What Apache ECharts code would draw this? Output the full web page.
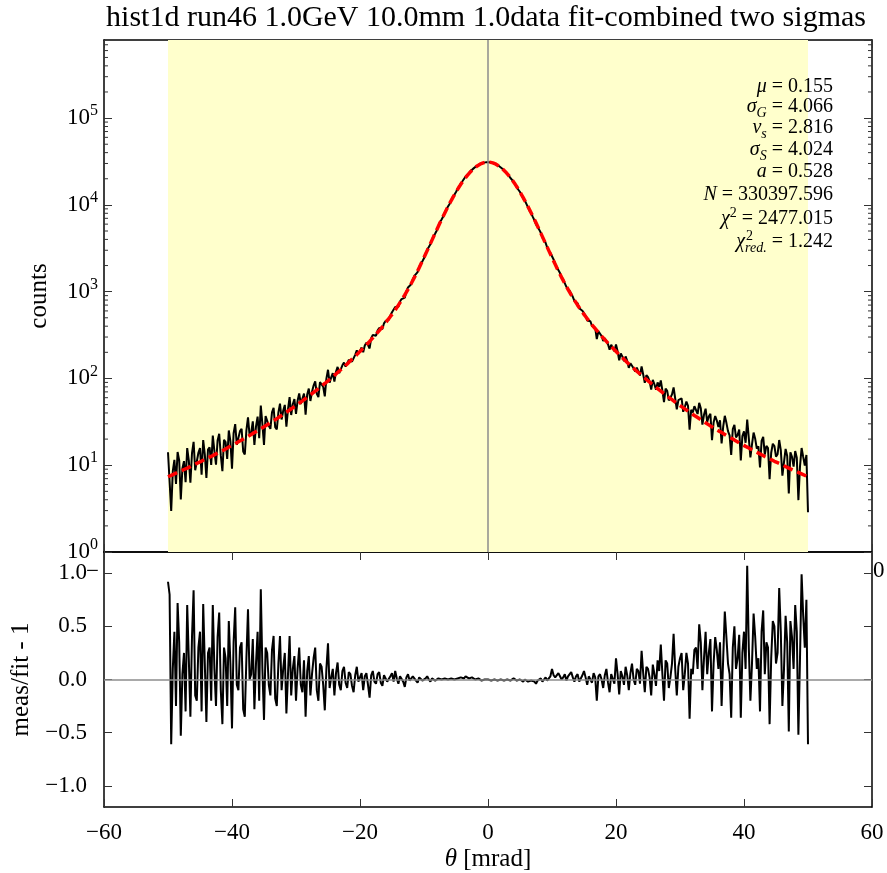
<!DOCTYPE html>
<html><head><meta charset="utf-8">
<script src="https://cdn.jsdelivr.net/npm/echarts@6/dist/echarts.min.js"></script>
<style>html,body{margin:0;padding:0;background:#fff}#c{width:887px;height:873px}</style>
</head><body><div id="c"></div>
<script>
// bin centres (mrad)
const theta = [-50,-49.75,-49.5,-49.25,-49,-48.75,-48.5,-48.25,-48,-47.75,-47.5,-47.25,-47,-46.75,-46.5,-46.25,-46,-45.75,-45.5,-45.25,
-45,-44.75,-44.5,-44.25,-44,-43.75,-43.5,-43.25,-43,-42.75,-42.5,-42.25,-42,-41.75,-41.5,-41.25,-41,-40.75,-40.5,-40.25,
-40,-39.75,-39.5,-39.25,-39,-38.75,-38.5,-38.25,-38,-37.75,-37.5,-37.25,-37,-36.75,-36.5,-36.25,-36,-35.75,-35.5,-35.25,
-35,-34.75,-34.5,-34.25,-34,-33.75,-33.5,-33.25,-33,-32.75,-32.5,-32.25,-32,-31.75,-31.5,-31.25,-31,-30.75,-30.5,-30.25,
-30,-29.75,-29.5,-29.25,-29,-28.75,-28.5,-28.25,-28,-27.75,-27.5,-27.25,-27,-26.75,-26.5,-26.25,-26,-25.75,-25.5,-25.25,
-25,-24.75,-24.5,-24.25,-24,-23.75,-23.5,-23.25,-23,-22.75,-22.5,-22.25,-22,-21.75,-21.5,-21.25,-21,-20.75,-20.5,-20.25,
-20,-19.75,-19.5,-19.25,-19,-18.75,-18.5,-18.25,-18,-17.75,-17.5,-17.25,-17,-16.75,-16.5,-16.25,-16,-15.75,-15.5,-15.25,
-15,-14.75,-14.5,-14.25,-14,-13.75,-13.5,-13.25,-13,-12.75,-12.5,-12.25,-12,-11.75,-11.5,-11.25,-11,-10.75,-10.5,-10.25,
-10,-9.75,-9.5,-9.25,-9,-8.75,-8.5,-8.25,-8,-7.75,-7.5,-7.25,-7,-6.75,-6.5,-6.25,-6,-5.75,-5.5,-5.25,
-5,-4.75,-4.5,-4.25,-4,-3.75,-3.5,-3.25,-3,-2.75,-2.5,-2.25,-2,-1.75,-1.5,-1.25,-1,-0.75,-0.5,-0.25,
0,
0.25,0.5,0.75,1,1.25,1.5,1.75,2,2.25,2.5,2.75,3,3.25,3.5,3.75,4,4.25,4.5,4.75,5,
5.25,5.5,5.75,6,6.25,6.5,6.75,7,7.25,7.5,7.75,8,8.25,8.5,8.75,9,9.25,9.5,9.75,10,
10.25,10.5,10.75,11,11.25,11.5,11.75,12,12.25,12.5,12.75,13,13.25,13.5,13.75,14,14.25,14.5,14.75,15,
15.25,15.5,15.75,16,16.25,16.5,16.75,17,17.25,17.5,17.75,18,18.25,18.5,18.75,19,19.25,19.5,19.75,20,
20.25,20.5,20.75,21,21.25,21.5,21.75,22,22.25,22.5,22.75,23,23.25,23.5,23.75,24,24.25,24.5,24.75,25,
25.25,25.5,25.75,26,26.25,26.5,26.75,27,27.25,27.5,27.75,28,28.25,28.5,28.75,29,29.25,29.5,29.75,30,
30.25,30.5,30.75,31,31.25,31.5,31.75,32,32.25,32.5,32.75,33,33.25,33.5,33.75,34,34.25,34.5,34.75,35,
35.25,35.5,35.75,36,36.25,36.5,36.75,37,37.25,37.5,37.75,38,38.25,38.5,38.75,39,39.25,39.5,39.75,40,
40.25,40.5,40.75,41,41.25,41.5,41.75,42,42.25,42.5,42.75,43,43.25,43.5,43.75,44,44.25,44.5,44.75,45,
45.25,45.5,45.75,46,46.25,46.5,46.75,47,47.25,47.5,47.75,48,48.25,48.5,48.75,49,49.25,49.5,49.75,50];
// fitted counts (red dashed curve)
const fitCounts = [7.36,7.50,7.64,7.79,7.94,8.09,8.25,8.41,8.57,8.74,8.92,9.09,9.27,9.46,9.65,9.87,10.1,10.3,10.5,10.7,
10.9,11.1,11.4,11.6,11.9,12.1,12.4,12.6,12.9,13.2,13.5,13.8,14.1,14.4,14.7,15.1,15.4,15.8,16.2,16.5,
16.9,17.3,17.7,18.1,18.6,19.0,19.5,20.0,20.5,21.0,21.5,22.0,22.6,23.2,23.8,24.4,25.0,25.6,26.3,27.0,
27.7,28.4,29.2,30.0,30.9,31.7,32.6,33.5,34.4,35.4,36.4,37.4,38.5,39.6,40.8,42.0,43.3,44.6,45.9,47.3,
48.7,50.2,51.8,53.4,55.1,56.9,58.7,60.6,62.6,64.7,66.8,69.0,71.3,73.7,76.2,78.9,81.6,84.5,87.5,90.6,
93.9,97.3,100.9,104.6,108.5,112.7,117,121,126,131,136,141,147,153,160,166,173,180,188,196,
205,214,223,233,244,255,267,280,293,308,323,339,356,375,394,415,438,463,489,517,
547,580,616,656,699,747,798,855,917,988,1064,1149,1241,1347,1461,1590,1731,1890,2064,2259,
2473,2711,2972,3261,3579,3927,4309,4725,5181,5673,6212,6786,7413,8076,8798,9552,10370,11220,12131,13070,
14065,15100,16154,17250,18357,19490,20628,21770,22893,23990,25068,26080,27056,27920,28750,29420,30049,30480,30869,31078,
31148,
31078,30869,30480,30049,29420,28750,27920,27056,26080,25068,23990,22893,21770,20628,19490,18357,17250,16154,15100,14065,
13070,12131,11220,10370,9552,8798,8076,7413,6786,6212,5673,5181,4725,4309,3927,3579,3261,2972,2711,2473,
2259,2064,1890,1731,1590,1461,1347,1241,1149,1064,988,917,855,798,747,699,656,616,580,547,
517,489,463,438,415,394,375,356,339,323,308,293,280,267,255,244,233,223,214,205,
196,188,180,173,166,160,153,147,141,136,131,126,121,117,112.7,108.5,104.6,100.9,97.3,93.9,
90.6,87.5,84.5,81.6,78.9,76.2,73.7,71.3,69.0,66.8,64.7,62.6,60.6,58.7,56.9,55.1,53.4,51.8,50.2,48.7,
47.3,45.9,44.6,43.3,42.0,40.8,39.6,38.5,37.4,36.4,35.4,34.4,33.5,32.6,31.7,30.9,30.0,29.2,28.4,27.7,
27.0,26.3,25.6,25.0,24.4,23.8,23.2,22.6,22.0,21.5,21.0,20.5,20.0,19.5,19.0,18.6,18.1,17.7,17.3,16.9,
16.5,16.2,15.8,15.4,15.1,14.7,14.4,14.1,13.8,13.5,13.2,12.9,12.6,12.4,12.1,11.9,11.6,11.4,11.1,10.9,
10.7,10.5,10.3,10.1,9.87,9.65,9.46,9.27,9.09,8.92,8.74,8.57,8.41,8.25,8.09,7.94,7.79,7.64,7.50,7.36];
// meas/fit - 1
const residuals = [0.92,0.80,-0.61,0.10,0.45,-0.25,0.72,0.35,-0.53,0.05,0.25,-0.30,0.70,0.20,-0.35,0.40,0.84,-0.15,-0.20,0.30,
0.45,-0.30,0.71,0.15,-0.40,0.25,0.30,-0.20,0.70,0.10,-0.25,0.40,0.63,-0.10,-0.42,0.30,0.20,-0.25,0.55,0.15,
-0.46,0.35,0.68,-0.05,-0.10,0.30,0.35,-0.28,-0.35,0.20,0.66,0.00,0.05,0.38,-0.28,0.15,0.45,-0.20,0.85,0.10,
-0.38,0.30,0.25,-0.05,-0.15,0.28,0.41,-0.18,-0.25,0.15,0.41,-0.10,0.10,0.25,-0.32,0.05,0.41,-0.15,0.10,0.22,
-0.20,0.10,0.30,-0.05,-0.12,0.18,-0.35,0.08,0.22,-0.15,0.05,0.20,0.30,-0.10,-0.20,0.15,0.12,-0.05,-0.29,0.10,
0.34,-0.08,0.02,0.10,-0.15,0.06,0.16,-0.05,-0.10,0.08,0.12,-0.03,-0.08,0.07,0.05,-0.06,-0.12,0.04,0.12,-0.02,
0.02,0.06,-0.10,0.03,0.06,-0.05,-0.17,0.04,0.08,-0.02,-0.04,0.05,0.07,-0.03,-0.06,0.04,0.05,-0.02,-0.03,0.03,
0.06,-0.02,0.08,0.01,-0.04,0.03,0.03,-0.02,-0.07,0.02,0.05,-0.01,-0.02,0.03,0.04,-0.01,-0.03,0.02,0.02,-0.01,
-0.02,0.01,0.03,0.00,-0.02,0.01,0.01,-0.01,-0.02,0.01,0.02,0.00,-0.01,0.01,0.01,0.00,-0.01,0.01,0.02,0.00,
0.00,0.01,0.01,0.02,0.02,0.01,0.03,0.02,0.01,0.02,0.02,0.01,0.00,0.01,0.01,0.00,-0.01,0.00,0.00,0.00,
0.00,
0.00,-0.01,0.00,0.00,-0.01,-0.01,0.00,0.00,0.00,-0.01,-0.01,0.00,0.00,-0.01,0.00,0.01,0.00,-0.01,-0.01,0.00,
-0.01,-0.02,0.00,-0.01,-0.02,-0.03,-0.01,-0.02,-0.02,-0.04,-0.01,0.00,0.01,-0.02,0.00,0.02,-0.01,0.01,0.03,0.10,
0.04,0.02,0.01,0.06,0.03,0.00,0.02,0.05,-0.01,0.03,0.04,0.07,0.02,-0.02,0.03,0.05,-0.02,0.01,0.04,0.08,
0.02,-0.05,0.03,0.04,-0.03,0.06,0.02,-0.20,0.03,0.05,0.00,-0.08,0.04,0.10,-0.03,-0.12,0.05,0.06,-0.04,0.20,
0.05,-0.14,0.08,0.03,-0.05,0.12,0.04,-0.10,0.06,0.15,0.00,-0.05,0.10,0.08,-0.04,0.27,0.06,-0.12,0.12,0.10,
0.02,-0.15,0.14,0.05,-0.06,0.18,0.08,0.33,0.05,-0.20,0.18,0.15,-0.08,0.02,0.15,0.43,0.10,-0.15,0.12,0.20,
0.25,-0.10,0.05,0.25,0.15,-0.37,0.10,0.05,0.28,0.30,0.10,0.52,0.35,-0.10,0.20,0.45,0.05,0.25,0.38,-0.30,
0.15,0.40,0.28,0.10,0.35,-0.25,0.20,0.64,0.40,0.15,0.05,-0.36,0.30,0.50,0.10,0.20,0.42,-0.36,0.25,0.45,
0.10,1.07,0.30,-0.20,0.15,0.62,0.40,0.10,0.20,-0.30,0.45,0.65,0.05,0.35,0.30,-0.42,0.20,0.55,0.50,0.15,
0.25,0.86,0.45,-0.25,0.10,0.60,0.35,-0.49,0.55,0.40,0.10,0.70,0.45,-0.52,0.20,0.99,0.60,0.30,0.75,-0.61];
const resTicks = [-1,-0.5,0,0.5,1];
const fitRange = [-50, 50];
const titleText = 'hist1d run46 1.0GeV 10.0mm 1.0data fit-combined two sigmas';
const paramLabels = ['{i|μ}','{i|σ}{sb|G}','{i|ν}{sb|s}','{i|σ}{sb|S}','{i|a}','{i|N}','{i|χ}{sp|2}','{i|χ}{sb|red.}'];
const paramValues = ['0.155','4.066','2.816','4.024','0.528','330397.596','2477.015','1.242'];

const FONT = "'Liberation Serif','DejaVu Serif',serif";
const measData = theta.map((x,i)=>[x, fitCounts[i]*(1+residuals[i])]);
const fitData = theta.map((x,i)=>[x, fitCounts[i]]);
const resData = theta.map((x,i)=>[x, residuals[i]]);
const YMAX = Math.pow(10,5.9);
const minorVals = [];
for (let e=0;e<6;e++) for (let m=2;m<10;m++){ const v=m*Math.pow(10,e); if (v<YMAX) minorVals.push([0,v]); }

const minus = s => s.replace('-', '\u2212');
const axLine = {show:true, onZero:false, lineStyle:{color:'#000', width:1.5}};
const tickIn = {show:true, inside:true, length:8, lineStyle:{color:'#333', width:1}};
function xAx(grid, pos, labels){
  return {gridIndex:grid, type:'value', min:-60, max:60, interval:20, position:pos,
    axisLine:axLine, axisTick:tickIn, splitLine:{show:false},
    axisLabel: labels ? {show:true, margin:14, color:'#000', fontFamily:FONT, fontSize:23,
      formatter: v => minus(String(v))} : {show:false},
    name: labels ? '{i|θ} [mrad]' : '', nameLocation:'middle', nameGap:40,
    nameTextStyle:{color:'#000', fontFamily:FONT, fontSize:25, rich:{i:{fontStyle:'italic', fontFamily:FONT, fontSize:25}}}
  };
}
const paramGraphics = paramLabels.map((lab,i)=>({
  type:'text', x:833, y:[87,107,128,150,172,195,219,242][i], z:50,
  style:{text: lab + ' = ' + paramValues[i], align:'right', verticalAlign:'middle', fill:'#000',
    fontFamily:FONT, fontSize:20,
    rich:{i:{fontStyle:'italic', fontFamily:FONT, fontSize:20},
          sb:{fontStyle:'italic', fontFamily:FONT, fontSize:14, lineHeight:26, verticalAlign:'bottom'},
          sp:{fontFamily:FONT, fontSize:14, lineHeight:26, verticalAlign:'top'}}}
}));

const chart = echarts.init(document.getElementById('c'), null, {renderer:'canvas'});
chart.setOption({
  animation:false,
  backgroundColor:'#fff',
  grid:[{left:104, right:15, top:40, height:512}, {left:104, right:15, top:552, height:255}],
  xAxis:[xAx(0,'bottom',false), xAx(0,'top',false), xAx(1,'bottom',true), xAx(1,'top',false)],
  yAxis:[
    {gridIndex:0, type:'log', logBase:10, min:1, max:YMAX, position:'left',
     axisLine:axLine, axisTick:tickIn, splitLine:{show:false}, minorTick:{show:false},
     axisLabel:{margin:6, color:'#000', fontFamily:FONT, fontSize:23, showMaxLabel:false,
       formatter: v => { const e = Math.log10(v); return Math.abs(e-Math.round(e))<1e-6 && e<5.5 ? '10{s|' + Math.round(e) + '}' : ''; },
       rich:{s:{fontFamily:FONT, fontSize:16, lineHeight:30, verticalAlign:'top'}}},
     name:'counts', nameLocation:'middle', nameGap:52,
     nameTextStyle:{color:'#000', fontFamily:FONT, fontSize:25}},
    {gridIndex:0, type:'log', logBase:10, min:1, max:YMAX, position:'right',
     axisLine:axLine, axisTick:tickIn, splitLine:{show:false}, axisLabel:{show:false}},
    {gridIndex:1, type:'value', min:-1.2, max:1.2, position:'left',
     axisLine:axLine, axisTick:Object.assign({customValues:resTicks}, tickIn), splitLine:{show:false},
     axisLabel:{customValues:resTicks, margin:17, color:'#000', fontFamily:FONT, fontSize:23,
       formatter: v => minus(v.toFixed(1))},
     name:'meas/fit - 1', nameLocation:'middle', nameGap:52,
     nameTextStyle:{color:'#000', fontFamily:FONT, fontSize:25}},
    {gridIndex:1, type:'value', min:-1.2, max:1.2, position:'right',
     axisLine:axLine, axisTick:Object.assign({customValues:resTicks}, tickIn), splitLine:{show:false}, axisLabel:{show:false}}
  ],
  series:[
    {type:'line', xAxisIndex:0, yAxisIndex:0, data:[], z:1, silent:true,
     markArea:{silent:true, itemStyle:{color:'#ffffcc', opacity:1}, data:[[{xAxis:fitRange[0]},{xAxis:fitRange[1]}]]},
     markLine:{silent:true, symbol:['none','none'], label:{show:false}, lineStyle:{color:'#8c8c8c', width:1.5, type:'solid'}, data:[{xAxis:0}]}},
    {type:'custom', xAxisIndex:0, yAxisIndex:0, data:minorVals, z:6, silent:true,
     renderItem:(p, api)=>{
       const v = api.value(1);
       const a = api.coord([-60, v]), b = api.coord([60, v]);
       return {type:'group', children:[
         {type:'line', shape:{x1:a[0], y1:a[1], x2:a[0]+4, y2:a[1]}, style:{stroke:'#333', lineWidth:1}},
         {type:'line', shape:{x1:b[0]-4, y1:b[1], x2:b[0], y2:b[1]}, style:{stroke:'#333', lineWidth:1}}]};
     }},
    {type:'line', xAxisIndex:0, yAxisIndex:0, data:measData, z:2, showSymbol:false, silent:true,
     lineStyle:{color:'#000', width:2}},
    {type:'line', xAxisIndex:0, yAxisIndex:0, data:fitData, z:3, showSymbol:false, silent:true,
     lineStyle:{color:'#ff0000', width:3.5, type:[10,5]}},
    {type:'line', xAxisIndex:2, yAxisIndex:2, data:[], z:1, silent:true,
     markLine:{silent:true, symbol:['none','none'], label:{show:false}, lineStyle:{color:'#8c8c8c', width:1.5, type:'solid'}, data:[{yAxis:0}]}},
    {type:'line', xAxisIndex:2, yAxisIndex:2, data:resData, z:2, showSymbol:false, silent:true,
     lineStyle:{color:'#000', width:2}}
  ],
  graphic:[
    {type:'text', x:486, y:18, z:50, style:{text:titleText, align:'center', verticalAlign:'middle', fill:'#000', fontFamily:FONT, fontSize:30}},
    ...paramGraphics,
    {type:'text', x:746, y:236, z:50, style:{text:'2', align:'left', verticalAlign:'middle', fill:'#000', fontFamily:FONT, fontSize:14}},
    {type:'text', x:86, y:572, z:50, style:{text:'\u2212', align:'left', verticalAlign:'middle', fill:'#000', fontFamily:FONT, fontSize:23}},
    {type:'text', x:873, y:571, z:50, style:{text:'0', align:'left', verticalAlign:'middle', fill:'#000', fontFamily:FONT, fontSize:23}}
  ]
});
</script></body></html>
